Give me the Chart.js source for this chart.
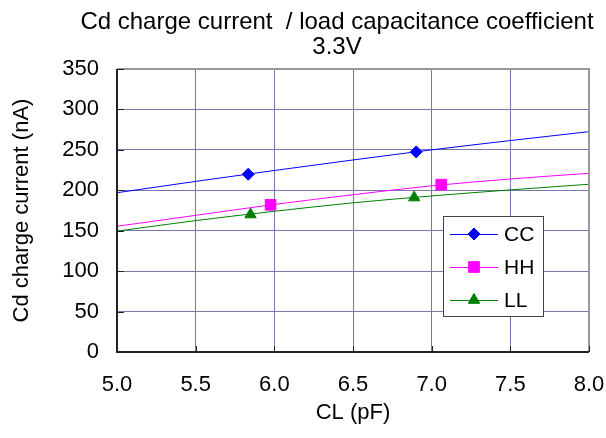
<!DOCTYPE html>
<html>
<head>
<meta charset="utf-8">
<script src="https://cdn.jsdelivr.net/npm/chart.js@4.4.0/dist/chart.umd.min.js"></script>
<style>
  html, body { margin: 0; padding: 0; background: #fff; }
  canvas { display: block; }
</style>
</head>
<body>
<canvas id="chart" width="606" height="438"></canvas>
<script>
const titleLines = ['Cd charge current  / load capacitance coefficient', '3.3V'];
const xTitle = 'CL (pF)';
const yTitle = 'Cd charge current (nA)';

const seriesNames = ['CC', 'HH', 'LL'];
const seriesColors = ['#0000ff', '#ff00ff', '#008000'];
const markerStyles = ['rectRot', 'rect', 'triangle'];
const markerSizes = [6, 7.5, 6.5];

// measured points: CL (pF) / current (nA)
const ccX = [5.834, 6.902];
const ccY = [219.8, 247.5];
const hhX = [5.976, 7.061];
const hhY = [182, 207];
const llX = [5.849, 6.889];
const llY = [170, 191];

// trend lines at each x tick
const trendX = [5.0, 5.5, 6.0, 6.5, 7.0, 7.5, 8.0];
const ccTrend = [197, 211, 224.5, 237.5, 250, 261.5, 272.5];
const hhTrend = [155.5, 169, 182.5, 194.5, 205.5, 214, 221];
const llTrend = [149.5, 162.5, 174, 184.5, 193, 200.5, 207.5];

const xTickLabels = ['5.0', '5.5', '6.0', '6.5', '7.0', '7.5', '8.0'];
const yTickLabels = ['0', '50', '100', '150', '200', '250', '300', '350'];

const FONT = '"Liberation Sans", Arial, sans-serif';

function pts(xs, ys) {
  return xs.map((x, i) => ({ x: x, y: ys[i] }));
}

const pointSets = [pts(ccX, ccY), pts(hhX, hhY), pts(llX, llY)];
const trendSets = [ccTrend, hhTrend, llTrend].map(t => pts(trendX, t));

const datasets = [];
trendSets.forEach((d, i) => {
  datasets.push({
    label: seriesNames[i] + ' trend',
    data: d,
    showLine: true,
    borderColor: seriesColors[i],
    borderWidth: 1,
    pointRadius: 0,
    cubicInterpolationMode: 'monotone'
  });
});
pointSets.forEach((d, i) => {
  datasets.push({
    label: seriesNames[i],
    data: d,
    showLine: false,
    pointStyle: markerStyles[i],
    pointRadius: markerSizes[i],
    pointBackgroundColor: seriesColors[i],
    pointBorderColor: seriesColors[i],
    pointBorderWidth: 1
  });
});

// title, frame, inside ticks and the boxed legend
const decor = {
  id: 'decor',
  afterDraw(chart) {
    const ctx = chart.ctx;
    const a = chart.chartArea;
    const xs = chart.scales.x, ys = chart.scales.y;
    ctx.save();

    ctx.fillStyle = '#000';
    ctx.font = '24px ' + FONT;
    ctx.textAlign = 'center';
    ctx.textBaseline = 'alphabetic';
    ctx.fillText(titleLines[0], 337, 29);
    ctx.fillText(titleLines[1], 337, 54);

    // top / right frame in grey
    ctx.strokeStyle = '#999';
    ctx.lineWidth = 2;
    ctx.beginPath();
    ctx.moveTo(a.left, a.top);
    ctx.lineTo(a.right, a.top);
    ctx.lineTo(a.right, a.bottom);
    ctx.stroke();

    // left / bottom axes with inside ticks
    ctx.strokeStyle = '#222';
    ctx.lineWidth = 2;
    ctx.beginPath();
    ctx.moveTo(a.left, a.top);
    ctx.lineTo(a.left, a.bottom);
    ctx.lineTo(a.right, a.bottom);
    ctx.stroke();
    ctx.lineWidth = 1;
    ctx.beginPath();
    ys.ticks.forEach(t => {
      const y = Math.round(ys.getPixelForValue(t.value)) + 0.5;
      ctx.moveTo(a.left, y);
      ctx.lineTo(a.left + 7, y);
    });
    xs.ticks.forEach(t => {
      const x = Math.round(xs.getPixelForValue(t.value)) + 0.5;
      ctx.moveTo(x, a.bottom);
      ctx.lineTo(x, a.bottom - 6);
    });
    ctx.stroke();

    // legend box
    const bx = 443, by = 216, bw = 100, bh = 100;
    ctx.fillStyle = '#fff';
    ctx.fillRect(bx, by, bw, bh);
    ctx.strokeStyle = '#444';
    ctx.lineWidth = 1;
    ctx.strokeRect(bx + 0.5, by + 0.5, bw, bh);
    ctx.font = '21px ' + FONT;
    ctx.textAlign = 'left';
    ctx.textBaseline = 'middle';
    seriesNames.forEach((name, i) => {
      const y = by + 18 + i * 33;
      ctx.strokeStyle = seriesColors[i];
      ctx.beginPath();
      ctx.moveTo(bx + 7, y + 0.5);
      ctx.lineTo(bx + 55, y + 0.5);
      ctx.stroke();
      ctx.fillStyle = seriesColors[i];
      Chart.helpers.drawPoint(ctx, {
        pointStyle: markerStyles[i],
        radius: markerSizes[i],
        borderWidth: 1,
        rotation: 0
      }, bx + 31, y);
      ctx.fill();
      ctx.fillStyle = '#000';
      ctx.fillText(name, bx + 61, y + 1);
    });
    ctx.restore();
  }
};

new Chart(document.getElementById('chart'), {
  type: 'scatter',
  data: { datasets: datasets },
  options: {
    responsive: false,
    animation: false,
    layout: { padding: { top: 69, right: 17, left: 0, bottom: 0 } },
    plugins: {
      legend: { display: false },
      title: { display: false },
      tooltip: { enabled: false }
    },
    scales: {
      x: {
        type: 'linear',
        min: 5,
        max: 8,
        afterBuildTicks: s => { s.ticks = xTickLabels.map(v => ({ value: parseFloat(v) })); },
        afterFit: s => { s.height = 86; s.paddingLeft = 0; s.paddingRight = 0; },
        ticks: {
          callback: (v, i) => xTickLabels[i],
          color: '#000',
          padding: 20,
          maxRotation: 0,
          font: { family: FONT, size: 22 }
        },
        grid: { color: '#7878a8', drawTicks: false },
        border: { display: false },
        title: {
          display: true,
          text: xTitle,
          color: '#000',
          font: { family: FONT, size: 22 },
          padding: { top: 0, bottom: 12 }
        }
      },
      y: {
        type: 'linear',
        min: 0,
        max: 350,
        afterBuildTicks: s => { s.ticks = yTickLabels.map(v => ({ value: parseFloat(v) })); },
        afterFit: s => { s.width = 117; s.paddingTop = 0; s.paddingBottom = 0; },
        ticks: {
          callback: (v, i) => yTickLabels[i],
          color: '#000',
          padding: 18,
          font: { family: FONT, size: 22 }
        },
        grid: { color: '#7878a8', drawTicks: false },
        border: { display: false },
        title: {
          display: true,
          text: yTitle,
          color: '#000',
          font: { family: FONT, size: 22 },
          padding: { top: 9, bottom: 0 }
        }
      }
    }
  },
  plugins: [decor]
});
</script>
</body>
</html>
